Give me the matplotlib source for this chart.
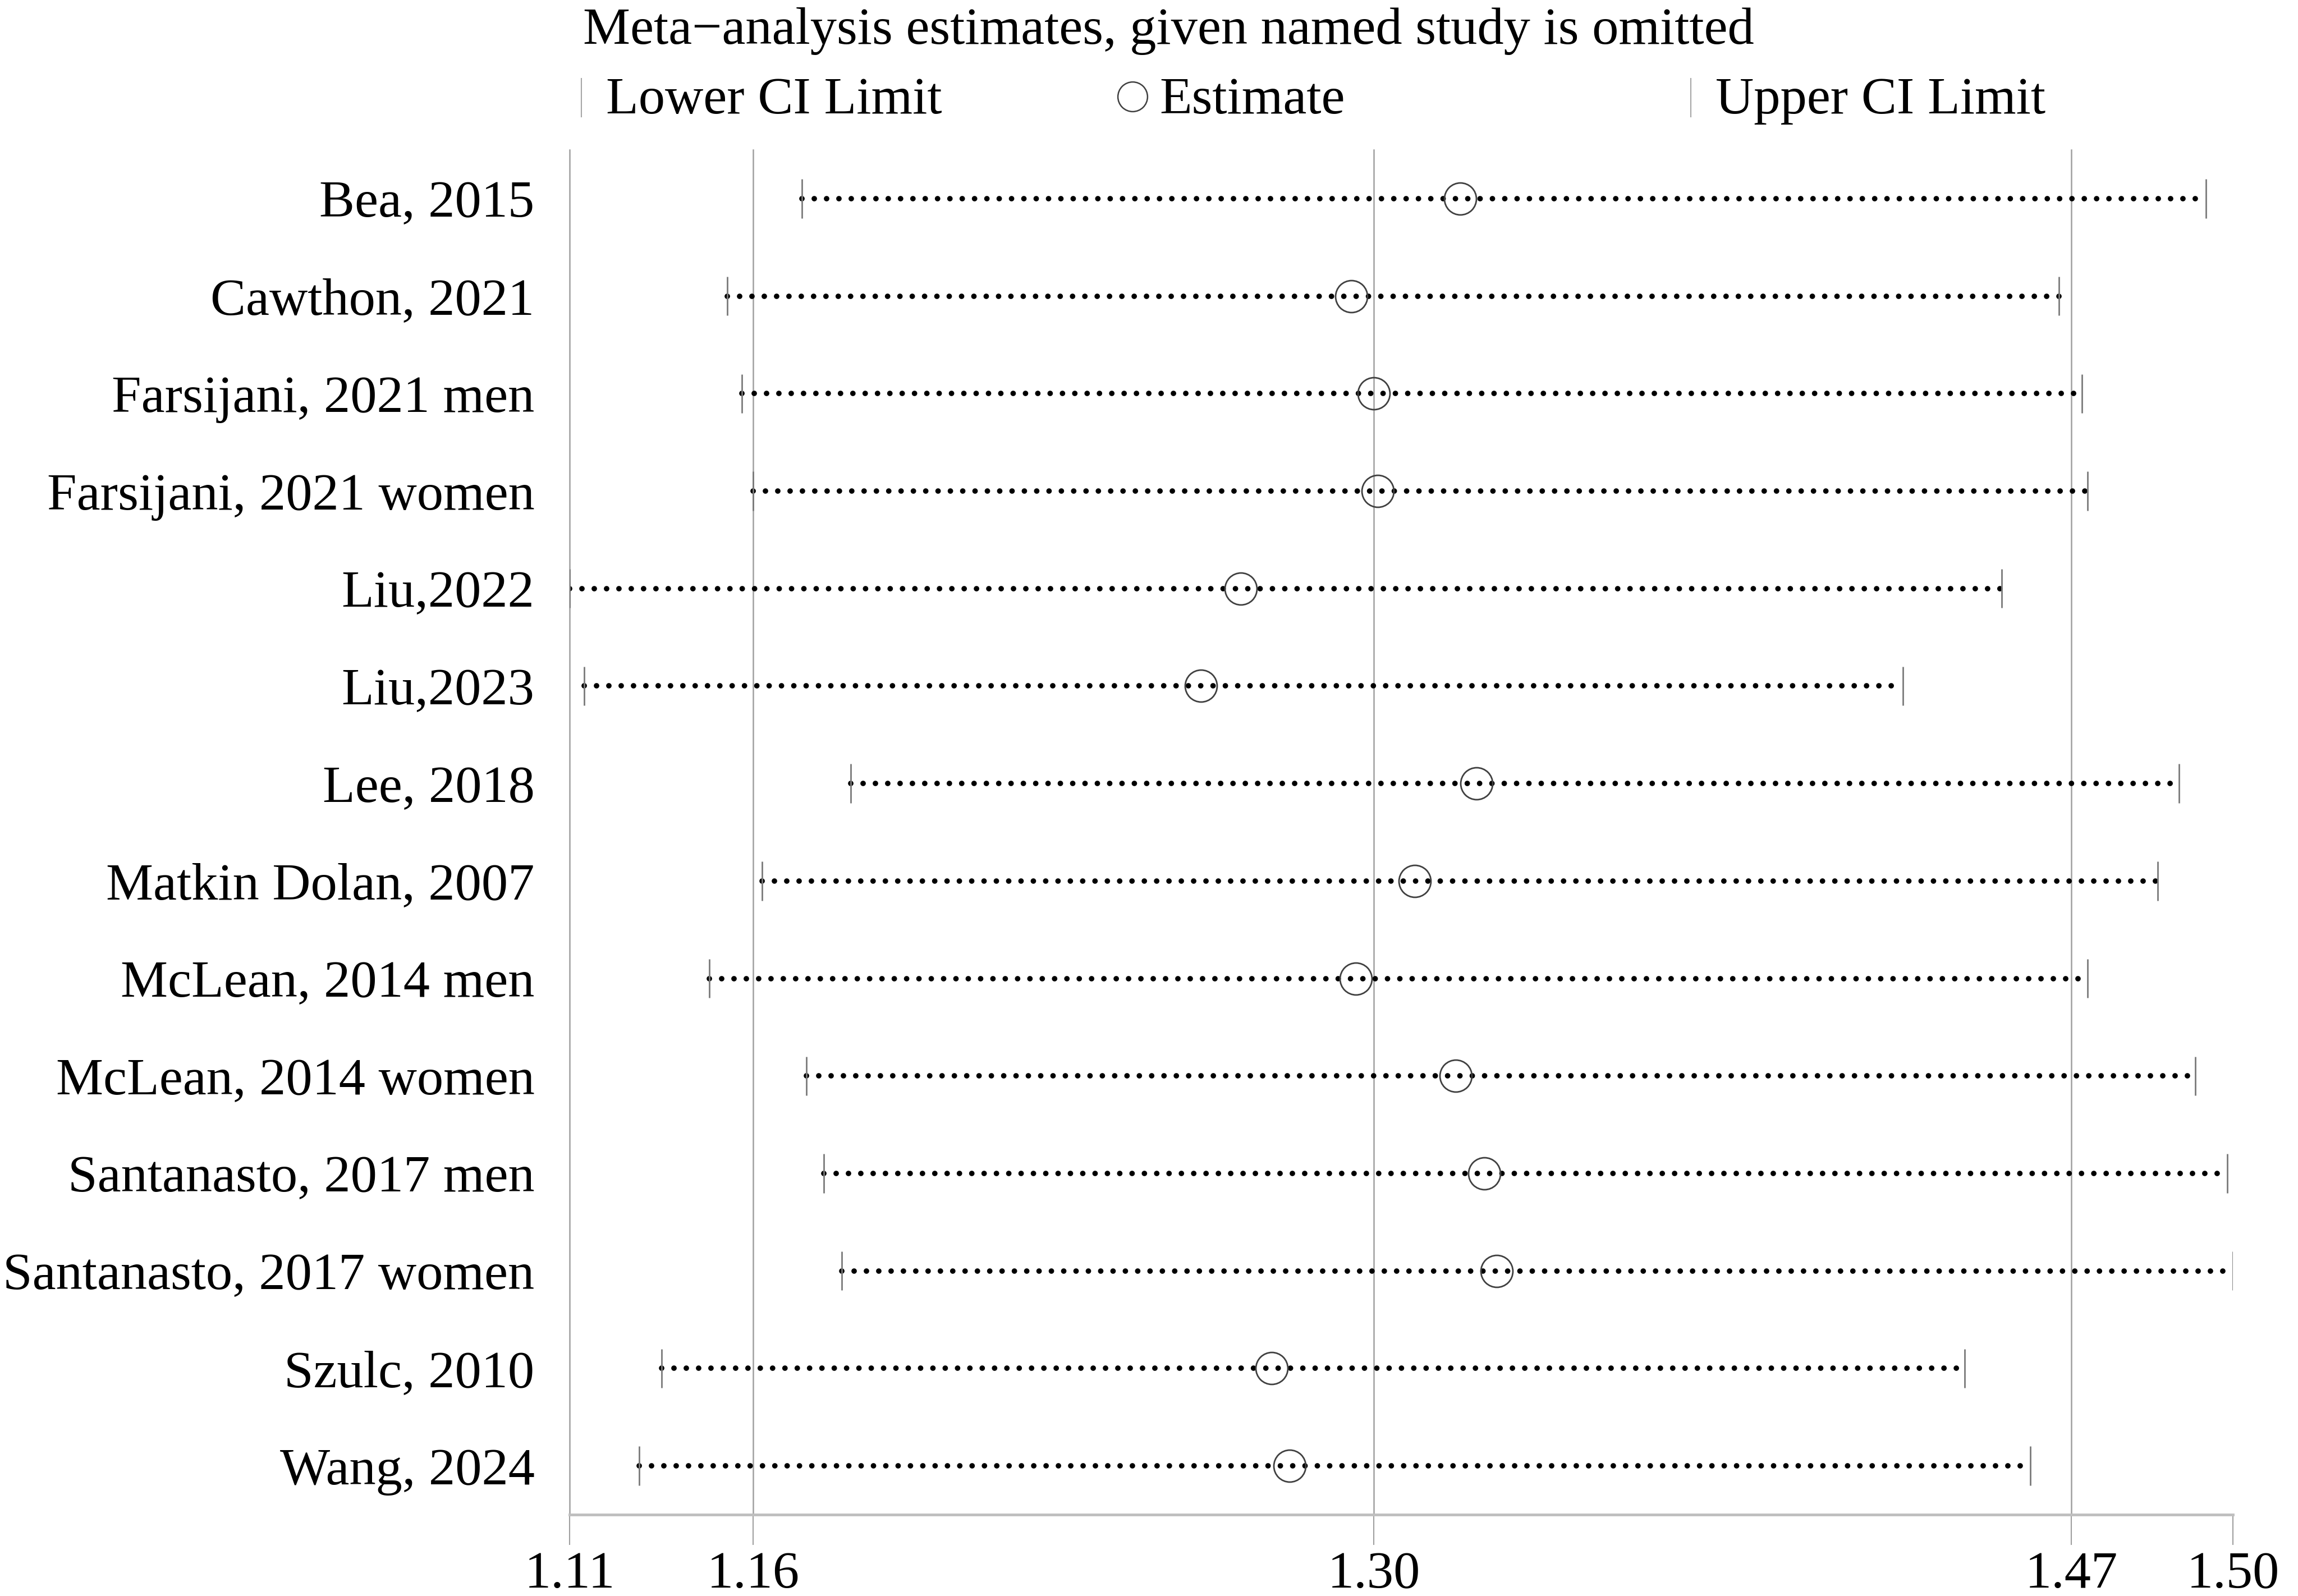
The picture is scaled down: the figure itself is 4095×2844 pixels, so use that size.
import numpy as np
import matplotlib
matplotlib.use('Agg')
import matplotlib.pyplot as plt
from matplotlib.lines import Line2D
from matplotlib.ticker import NullLocator

# data (omitted-study meta-analysis, ratio scale)
studies = ['Bea, 2015', 'Cawthon, 2021', 'Farsijani, 2021 men', 'Farsijani, 2021 women',
           'Liu,2022', 'Liu,2023', 'Lee, 2018', 'Matkin Dolan, 2007', 'McLean, 2014 men',
           'McLean, 2014 women', 'Santanasto, 2017 men', 'Santanasto, 2017 women',
           'Szulc, 2010', 'Wang, 2024']
lower = [1.171, 1.153, 1.157, 1.160, 1.110, 1.114, 1.182, 1.162, 1.148,
         1.172, 1.176, 1.180, 1.135, 1.129]
estimate = [1.321, 1.295, 1.300, 1.301, 1.270, 1.261, 1.325, 1.310, 1.296,
            1.320, 1.327, 1.330, 1.277, 1.281]
upper = [1.495, 1.467, 1.472, 1.473, 1.453, 1.429, 1.490, 1.486, 1.473,
         1.493, 1.499, 1.500, 1.444, 1.460]

tick_vals = [1.11, 1.16, 1.30, 1.47, 1.50]
tick_labels = ['1.11', '1.16', '1.30', '1.47', '1.50']

# the printed tick labels are rounded, so the original axis is not evenly spaced;
# map each labelled value to its place along the axis
axis_stretch = [0, 327, 1433, 2676, 2964]


def fwd(v):
    return np.interp(v, tick_vals, axis_stretch)


def inv(p):
    return np.interp(p, axis_stretch, tick_vals)


plt.rcParams['font.family'] = ['Liberation Serif', 'DejaVu Serif']
plt.rcParams['font.size'] = 68

W, H = 4095, 2844
fig = plt.figure(figsize=(W / 100, H / 100), dpi=100)
ax = fig.add_axes([1015 / W, 1 - 2699 / H, (3979 - 1015) / W, (2699 - 267) / H])
ax.set_xscale('function', functions=(fwd, inv))
ax.set_xlim(1.11, 1.50)
n = len(studies)
y = np.arange(n)
ax.set_ylim(n - 0.5, -0.5)

# reference lines
for xv in tick_vals[:4]:
    ax.axvline(xv, color='#a0a0a0', lw=1.8, zorder=1, clip_on=False)

# dotted CI lines
for i in range(n):
    ax.plot([lower[i], upper[i]], [y[i], y[i]], color='black', lw=7,
            linestyle=(0, (0.01, 2.25)), dash_capstyle='round', zorder=2)

# CI limit caps
ax.vlines(lower, y - 0.2, y + 0.2, color='#7a7a7a', lw=2, zorder=3)
ax.vlines(upper, y - 0.2, y + 0.2, color='#7a7a7a', lw=2, zorder=3)

# estimates
ax.plot(estimate, y, 'o', ms=41, mfc='none', mec='#404040', mew=2, zorder=4)

for s in ['left', 'top', 'right']:
    ax.spines[s].set_visible(False)
ax.spines['bottom'].set_color('#bfbfbf')
ax.spines['bottom'].set_linewidth(3.5)

ax.set_xticks(tick_vals, tick_labels)
ax.xaxis.set_minor_locator(NullLocator())
ax.tick_params(axis='x', length=39, width=1.5, color='#a0a0a0', pad=8, labelsize=68)
ax.set_yticks(y, studies)
ax.tick_params(axis='y', length=0, pad=45, labelsize=68)

# legend block on top
fig.text(1039 / W, 1 - 78 / H, 'Meta\u2212analysis estimates, given named study is omitted',
         ha='left', va='baseline', fontsize=68)
leg_base = 1 - 202 / H
fig.add_artist(Line2D([1036 / W] * 2, [1 - 140 / H, 1 - 208 / H], color='#a6a6a6', lw=1.5))
fig.text(1080 / W, leg_base, 'Lower CI Limit', ha='left', va='baseline', fontsize=68)
fig.add_artist(Line2D([2018 / W], [1 - 172 / H], marker='o', ms=38, mfc='none',
                      mec='#404040', mew=1.8, linestyle='none'))
fig.text(2066 / W, leg_base, 'Estimate', ha='left', va='baseline', fontsize=68)
fig.add_artist(Line2D([3013 / W] * 2, [1 - 140 / H, 1 - 208 / H], color='#a6a6a6', lw=1.5))
fig.text(3057 / W, leg_base, 'Upper CI Limit', ha='left', va='baseline', fontsize=68)

fig.savefig('out.png', dpi=100)
